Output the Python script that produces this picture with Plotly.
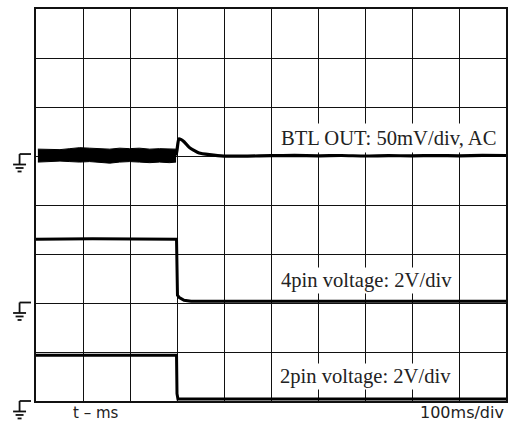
import plotly.graph_objects as go

# ---------------- data ----------------
# time base: 100 ms/div, 10 divisions
t_div_ms = 100
n_xdiv = 10
n_ydiv = 8

# channel settings (vertical scale and ground position in divisions)
btl_scale_mv = 50.0      # mV/div, AC coupled
btl_ground_div = 5.0
pin4_scale_v = 2.0       # V/div
pin4_ground_div = 2.0
pin2_scale_v = 2.0       # V/div
pin2_ground_div = 0.0

# BTL OUT noisy band before the step (envelope, mV)
btl_band_t = [4, 30, 51, 72, 93, 114, 136, 157, 178, 199, 220, 242, 263, 284, 298]
btl_band_hi = [7.0, 7.0, 6.5, 7.5, 8.5, 8.0, 7.5, 7.0, 8.0, 7.5, 8.0, 7.0, 7.5, 7.0, 7.0]
btl_band_lo = [-6.2, -5.7, -5.2, -5.7, -6.2, -5.7, -6.2, -7.3, -6.2, -5.7, -6.2, -6.8, -6.2, -6.8, -6.2]

# BTL OUT after the step (mV)
btl_t = [298, 300, 304, 308, 315, 326, 337, 347, 369, 400, 450, 500, 550, 600, 650,
         700, 750, 800, 850, 900, 950, 1000]
btl_mv = [0.5, 6.0, 17.5, 17.0, 14.6, 8.8, 5.5, 3.1, 1.4, -0.1, -0.1, 0.3, 0.6, 0.2, 0.5,
          0.0, 0.4, 0.1, 0.5, 0.2, 0.6, 0.5]

# 4pin voltage (V)
pin4_t = [0, 120, 299, 301, 305, 315, 330, 1000]
pin4_v = [2.6, 2.62, 2.6, 0.32, 0.22, 0.11, 0.07, 0.07]

# 2pin voltage (V)
pin2_t = [0, 299, 300, 302, 1000]
pin2_v = [1.87, 1.87, 0.3, 0.08, 0.08]

# labels
label_btl = "BTL OUT: 50mV/div, AC"
label_pin4 = "4pin voltage: 2V/div"
label_pin2 = "2pin voltage: 2V/div"
xlabel_left = "t \u2013 ms"
xlabel_right = "100ms/div"

# ---------------- conversion to screen divisions ----------------
def to_div(vals, scale, ground):
    return [ground + v / scale for v in vals]

fig = go.Figure()

trace_color = "#000000"

# noisy band
fig.add_trace(go.Scatter(x=btl_band_t, y=to_div(btl_band_lo, btl_scale_mv, btl_ground_div),
                         mode="lines", line=dict(color=trace_color, width=1),
                         hoverinfo="skip", showlegend=False))
fig.add_trace(go.Scatter(x=btl_band_t, y=to_div(btl_band_hi, btl_scale_mv, btl_ground_div),
                         mode="lines", line=dict(color=trace_color, width=1),
                         fill="tonexty", fillcolor=trace_color,
                         hoverinfo="skip", showlegend=False))
# BTL after step
fig.add_trace(go.Scatter(x=btl_t, y=to_div(btl_mv, btl_scale_mv, btl_ground_div),
                         mode="lines", line=dict(color=trace_color, width=3.2, shape="spline", smoothing=0.6),
                         hoverinfo="skip", showlegend=False))
# 4pin
fig.add_trace(go.Scatter(x=pin4_t, y=to_div(pin4_v, pin4_scale_v, pin4_ground_div),
                         mode="lines", line=dict(color=trace_color, width=3),
                         hoverinfo="skip", showlegend=False))
# 2pin
fig.add_trace(go.Scatter(x=pin2_t, y=to_div(pin2_v, pin2_scale_v, pin2_ground_div),
                         mode="lines", line=dict(color=trace_color, width=3),
                         hoverinfo="skip", showlegend=False))

W, H = 515, 424
ML, MR, MT, MB = 36, 7, 8, 23
plot_w = W - ML - MR
plot_h = H - MT - MB

def px_to_paper_x(px):
    return (px - ML) / plot_w

# ground symbols at left of each channel (paper coordinates, not clipped)
gnd_levels = [btl_ground_div + 0.04, pin4_ground_div + 0.01, pin2_ground_div]
shapes = []
for g in gnd_levels:
    gp = g / n_ydiv
    def yy(dpx, gp=gp):
        return gp - dpx / plot_h
    segs = [
        (19.5, 0, 31, 0),
        (19.5, 0, 19.5, 10.5),
        (13, 10.5, 26, 10.5),
        (15.5, 14, 23.5, 14),
        (17.5, 17.5, 21.5, 17.5),
    ]
    for x0, y0, x1, y1 in segs:
        shapes.append(dict(type="line", xref="paper", yref="paper",
                           x0=px_to_paper_x(x0), x1=px_to_paper_x(x1),
                           y0=yy(y0), y1=yy(y1),
                           line=dict(color="#111", width=1.8)))

serif = "Liberation Serif, Times New Roman, serif"
sans = "DejaVu Sans, Arial, sans-serif"
annotations = [
    dict(text=label_btl, x=px_to_paper_x(389.5), xref="paper", y=5.37, yref="y",
         xanchor="center", yanchor="middle", showarrow=False,
         font=dict(family=serif, size=20.6, color="#222"), bgcolor="white", borderpad=3),
    dict(text=label_pin4, x=px_to_paper_x(368), xref="paper", y=2.46, yref="y",
         xanchor="center", yanchor="middle", showarrow=False,
         font=dict(family=serif, size=20.6, color="#222"), bgcolor="white", borderpad=1),
    dict(text=label_pin2, x=px_to_paper_x(367), xref="paper", y=0.51, yref="y",
         xanchor="center", yanchor="middle", showarrow=False,
         font=dict(family=serif, size=20.6, color="#222"), bgcolor="white", borderpad=1),
    dict(text=xlabel_left, x=px_to_paper_x(96), xref="paper", y=-12 / plot_h, yref="paper",
         xanchor="center", yanchor="middle", showarrow=False,
         font=dict(family=sans, size=15, color="#222")),
    dict(text=xlabel_right, x=px_to_paper_x(508), xref="paper", y=-12 / plot_h, yref="paper",
         xanchor="right", yanchor="middle", showarrow=False,
         font=dict(family=sans, size=16, color="#222")),
]

fig.update_layout(
    width=W, height=H,
    margin=dict(l=ML, r=MR, t=MT, b=MB, pad=0),
    paper_bgcolor="white", plot_bgcolor="white",
    showlegend=False,
    shapes=shapes,
    annotations=annotations,
    xaxis=dict(range=[0, n_xdiv * t_div_ms], dtick=t_div_ms, tick0=0,
               showgrid=True, gridcolor="#111", gridwidth=1,
               showticklabels=False, ticks="", zeroline=False,
               showline=True, linecolor="#111", linewidth=2, mirror=True, fixedrange=True),
    yaxis=dict(range=[0, n_ydiv], dtick=1, tick0=0,
               showgrid=True, gridcolor="#111", gridwidth=1,
               showticklabels=False, ticks="", zeroline=False,
               showline=True, linecolor="#111", linewidth=2, mirror=True, fixedrange=True),
)

fig.write_html("out.html", config={"displayModeBar": False},
               post_script="document.body.style.margin='0';document.body.style.overflow='hidden';")
